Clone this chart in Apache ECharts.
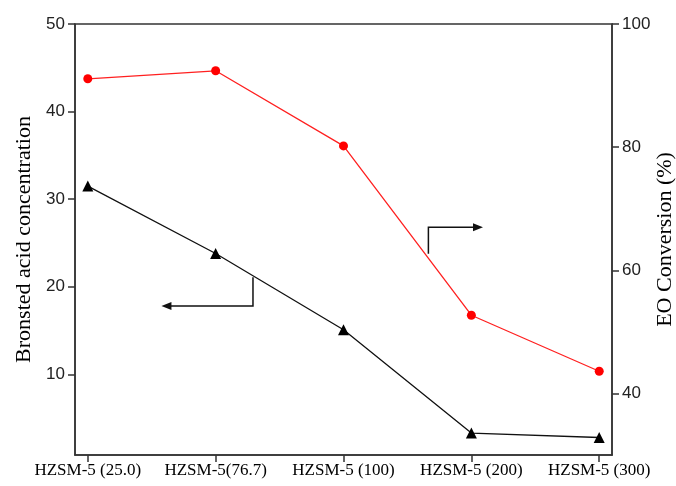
<!DOCTYPE html>
<html>
<head>
<meta charset="utf-8">
<script src="https://cdn.jsdelivr.net/npm/echarts@6/dist/echarts.min.js"></script>
<style>
  html, body { margin: 0; padding: 0; background: #fff; }
  #chart { width: 676px; height: 486px; }
</style>
</head>
<body>
<div id="chart"></div>
<script>
// Catalyst samples (Si/Al ratio in brackets)
const categories = ['HZSM-5 (25.0)', 'HZSM-5(76.7)', 'HZSM-5 (100)', 'HZSM-5 (200)', 'HZSM-5 (300)'];
// Bronsted acid concentration (left axis)
const acidValues = [31.5, 23.8, 15.1, 3.3, 2.8];
// EO conversion, % (right axis)
const conversionValues = [91.1, 92.4, 80.2, 52.7, 43.6];
// Tick labels
const leftTicks = [10, 20, 30, 40, 50];
const rightTicks = [40, 60, 80, 100];
const xTicks = [0, 1, 2, 3, 4];

const chart = echarts.init(document.getElementById('chart'), null, { renderer: 'canvas' });

const axisColor = '#333';
const sansFont = '"Liberation Sans", Arial, sans-serif';
const serifFont = '"Liberation Serif", "Times New Roman", serif';

const toPairs = vals => vals.map((v, i) => [i, v]);

chart.setOption({
  animation: false,
  backgroundColor: '#fff',
  grid: {
    left: 75, right: 64, top: 24, bottom: 31,
    outerBoundsMode: 'none',
    containLabel: false,
    show: true, borderColor: axisColor, borderWidth: 1.5,
    backgroundColor: 'transparent'
  },
  xAxis: {
    type: 'value',
    min: -0.1, max: 4.1,
    splitLine: { show: false },
    axisLine: { show: true, onZero: false, lineStyle: { color: axisColor, width: 1.5 } },
    axisTick: { show: true, inside: false, length: 7, customValues: xTicks, lineStyle: { color: axisColor, width: 1.5 } },
    axisLabel: {
      customValues: xTicks,
      formatter: v => categories[Math.round(v)],
      fontFamily: serifFont, fontSize: 17, color: '#000', margin: 7
    }
  },
  yAxis: [
    {
      type: 'value', position: 'left',
      min: 0.8, max: 50,
      name: 'Bronsted acid concentration',
      nameLocation: 'middle', nameRotate: 90, nameGap: 40,
      nameMoveOverlap: false,
      nameTextStyle: { fontFamily: serifFont, fontSize: 22, color: '#000' },
      splitLine: { show: false },
      axisLine: { show: true, onZero: false, lineStyle: { color: axisColor, width: 1.5 } },
      axisTick: { show: true, inside: false, length: 7, customValues: leftTicks, lineStyle: { color: axisColor, width: 1.5 } },
      axisLabel: { customValues: leftTicks, fontFamily: sansFont, fontSize: 17, color: '#222', margin: 10 }
    },
    {
      type: 'value', position: 'right',
      min: 30, max: 100,
      name: 'EO Conversion (%)',
      nameLocation: 'middle', nameRotate: 90, nameGap: 42,
      nameMoveOverlap: false,
      nameTextStyle: { fontFamily: serifFont, fontSize: 22, color: '#000' },
      splitLine: { show: false },
      axisLine: { show: true, onZero: false, lineStyle: { color: axisColor, width: 1.5 } },
      axisTick: { show: true, inside: false, length: 7, customValues: rightTicks, lineStyle: { color: axisColor, width: 1.5 } },
      axisLabel: { customValues: rightTicks, fontFamily: sansFont, fontSize: 17, color: '#222', margin: 10 }
    }
  ],
  series: [
    {
      name: 'Bronsted acid concentration',
      type: 'line',
      yAxisIndex: 0,
      data: toPairs(acidValues),
      symbol: 'triangle', symbolSize: 11,
      itemStyle: { color: '#000' },
      lineStyle: { color: '#111', width: 1.3 }
    },
    {
      name: 'EO Conversion',
      type: 'line',
      yAxisIndex: 1,
      data: toPairs(conversionValues),
      symbol: 'circle', symbolSize: 9,
      itemStyle: { color: '#ff0000' },
      lineStyle: { color: '#ff2020', width: 1.3 }
    }
  ]
});

// Pointer arrows showing which axis each curve belongs to (anchored in data space)
function px(x, y, axis) {
  return chart.convertToPixel({ xAxisIndex: 0, yAxisIndex: axis }, [x, y]);
}
function arrow(points, dir) {
  const tip = points[points.length - 1];
  const len = 10, half = 4;
  const head = dir < 0
    ? [[tip[0], tip[1]], [tip[0] + len, tip[1] - half], [tip[0] + len, tip[1] + half]]
    : [[tip[0], tip[1]], [tip[0] - len, tip[1] - half], [tip[0] - len, tip[1] + half]];
  const shaft = points.slice();
  shaft[shaft.length - 1] = [tip[0] - dir * (len - 1), tip[1]];
  return [
    { type: 'polyline', shape: { points: shaft }, style: { stroke: '#111', lineWidth: 1.5, fill: null }, z: 10 },
    { type: 'polygon', shape: { points: head }, style: { fill: '#111' }, z: 10 }
  ];
}
const leftArrow = [px(1.292, 21.1, 0), px(1.292, 17.8, 0), px(0.576, 17.8, 0)];
const rightArrow = [px(2.664, 62.7, 1), px(2.664, 67.0, 1), px(3.091, 67.0, 1)];
chart.setOption({
  graphic: [].concat(arrow(leftArrow, -1), arrow(rightArrow, 1))
});
</script>
</body>
</html>
